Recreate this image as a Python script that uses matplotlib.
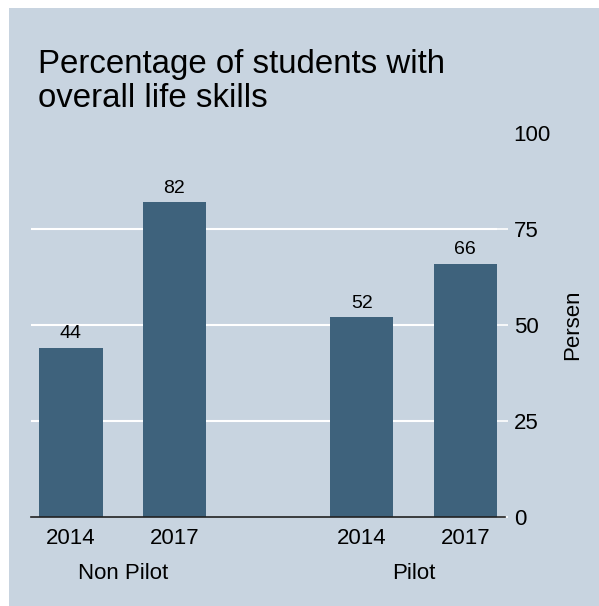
import matplotlib.pyplot as plt

plt.rcParams['font.family'] = ['Liberation Sans', 'DejaVu Sans']

groups = ["Non Pilot", "Pilot"]
years = ["2014", "2017", "2014", "2017"]
values = [44, 82, 52, 66]
positions = [0, 1, 2.81, 3.81]

BG = "#c8d4e0"
BAR = "#3e627c"

W, H = 599, 606
fig = plt.figure(figsize=(W / 100, H / 100), dpi=100, facecolor="white")
# shaded background panel with a thin white margin on the left and top
fig.patches.append(plt.Rectangle((9 / W, 0), 1, 1 - 8 / H, transform=fig.transFigure,
                                 facecolor=BG, edgecolor="none", zorder=-10))

ax = fig.add_axes([31 / W, (H - 517) / H, (497 - 31) / W, (517 - 133) / H])
ax.set_facecolor(BG)
for s in ax.spines.values():
    s.set_visible(False)

ax.set_xlim(-0.386, 4.116)
ax.set_ylim(0, 100)

for y in [25, 50, 75]:
    ax.axhline(y, color="white", lw=1.5, zorder=1)

bars = ax.bar(positions, values, width=0.61, color=BAR, zorder=2)
for x, v in zip(positions, values):
    ax.annotate(str(v), (x, v), xytext=(0, 4), textcoords="offset points",
                ha="center", va="bottom", fontsize=14)

# baseline runs through the zero tick on the right
ax.plot([-0.386, 4.116 + 8 / 103.5], [0, 0], color="#222222", lw=1.2,
        clip_on=False, zorder=3)

ax.yaxis.tick_right()
ax.set_yticks([0, 25, 50, 75, 100])
ax.tick_params(axis="y", length=8, width=1.2, color="white", pad=4, labelsize=16)
ax.yaxis.get_major_ticks()[-1].tick2line.set_visible(False)
ax.yaxis.set_label_position("right")
ax.set_ylabel("Persen", fontsize=16, labelpad=8)

ax.set_xticks(positions)
ax.set_xticklabels(years)
ax.tick_params(axis="x", length=0, pad=8, labelsize=16)

for i, g in enumerate(groups):
    xc = (positions[2 * i] + positions[2 * i + 1]) / 2
    ax.text(xc, -0.148, g, transform=ax.get_xaxis_transform(), ha="center",
            va="center", fontsize=16)

fig.text(38 / W, 1 - 73 / H, "Percentage of students with", fontsize=23.8,
         ha="left", va="baseline")
fig.text(38 / W, 1 - 107 / H, "overall life skills", fontsize=23.8,
         ha="left", va="baseline")

fig.savefig("out.png", dpi=100, facecolor="white")
